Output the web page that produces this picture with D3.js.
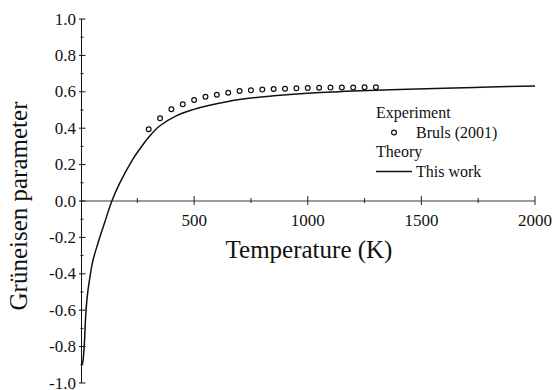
<!DOCTYPE html>
<html>
<head>
<meta charset="utf-8">
<script src="https://cdn.jsdelivr.net/npm/d3@7"></script>
<style>
  html, body { margin: 0; padding: 0; background: #fff; }
  svg { display: block; }
</style>
</head>
<body>
<svg id="chart" width="555" height="390"></svg>
<script>
// ---- data ----
const expT = [300,350,400,450,500,550,600,650,700,750,800,850,900,950,1000,1050,1100,1150,1200,1250,1300];
const expG = [0.394,0.454,0.504,0.531,0.555,0.573,0.584,0.595,0.604,0.608,0.612,0.615,0.617,0.619,0.621,0.622,0.623,0.624,0.624,0.625,0.625];

const theoryT = [6,10,14,18,22,27,33,40,54,76,106,138,172,228,274,300,348,421,495,568,700,850,1000,1200,1400,1600,1800,2000];
const theoryG = [-0.90,-0.885,-0.84,-0.76,-0.65,-0.56,-0.49,-0.43,-0.33,-0.235,-0.12,0.0,0.097,0.225,0.308,0.350,0.412,0.468,0.502,0.526,0.558,0.578,0.592,0.604,0.613,0.620,0.626,0.632];

const xMajorTicks = [500,1000,1500,2000];
const xMinorTicks = [250,750,1250,1750];
const yMajorTicks = [-1.0,-0.8,-0.6,-0.4,-0.2,0.0,0.2,0.4,0.6,0.8,1.0];
const yMinorTicks = [-0.9,-0.7,-0.5,-0.3,-0.1,0.1,0.3,0.5,0.7,0.9];
const yTickLabels = ["-1.0","-0.8","-0.6","-0.4","-0.2","0.0","0.2","0.4","0.6","0.8","1.0"];

const FONT = "Liberation Serif";
const svg = d3.select("#chart");
const x = d3.scaleLinear().domain([0, 2000]).range([80.5, 535]);
const y = d3.scaleLinear().domain([-1, 1]).range([383, 19]);

// ---- x axis (at y = 0) ----
const gx = svg.append("g");
gx.append("line")
  .attr("x1", x(0)).attr("x2", x(2000))
  .attr("y1", y(0)).attr("y2", y(0))
  .attr("stroke", "#7a7a7a").attr("stroke-width", 1.5);
gx.selectAll(".xmaj").data(xMajorTicks).enter().append("line")
  .attr("x1", d => x(d)).attr("x2", d => x(d))
  .attr("y1", y(0) - 5).attr("y2", y(0) + 4)
  .attr("stroke", "#222").attr("stroke-width", 1);
gx.selectAll(".xmin").data(xMinorTicks).enter().append("line")
  .attr("x1", d => x(d)).attr("x2", d => x(d))
  .attr("y1", y(0) - 3).attr("y2", y(0) + 2)
  .attr("stroke", "#222").attr("stroke-width", 1);
gx.selectAll(".xlab").data(xMajorTicks).enter().append("text")
  .attr("x", d => x(d)).attr("y", 226)
  .attr("text-anchor", "middle")
  .attr("font-family", FONT)
  .attr("font-size", 17).attr("fill", "#111")
  .text(d => d);

// ---- y axis ----
const gy = svg.append("g");
gy.append("line")
  .attr("x1", x(0) + 1).attr("x2", x(0) + 1)
  .attr("y1", y(-1)).attr("y2", y(1))
  .attr("stroke", "#111").attr("stroke-width", 1);
gy.selectAll(".ymaj").data(yMajorTicks).enter().append("line")
  .attr("x1", x(0) - 1.5).attr("x2", x(0) + 5)
  .attr("y1", d => y(d)).attr("y2", d => y(d))
  .attr("stroke", "#111").attr("stroke-width", 1);
gy.selectAll(".ymin").data(yMinorTicks).enter().append("line")
  .attr("x1", x(0)).attr("x2", x(0) + 3)
  .attr("y1", d => y(d)).attr("y2", d => y(d))
  .attr("stroke", "#111").attr("stroke-width", 1);
gy.selectAll(".ylab").data(yMajorTicks).enter().append("text")
  .attr("x", 76).attr("y", d => y(d) + 5.5)
  .attr("text-anchor", "end")
  .attr("font-family", FONT)
  .attr("font-size", 17).attr("fill", "#111")
  .text((d, i) => yTickLabels[i]);

// ---- axis titles ----
svg.append("text")
  .attr("x", 309).attr("y", 258)
  .attr("text-anchor", "middle")
  .attr("font-family", FONT)
  .attr("font-size", 25).attr("fill", "#111")
  .text("Temperature (K)");
svg.append("text")
  .attr("transform", "translate(27,206) rotate(-90)")
  .attr("text-anchor", "middle")
  .attr("font-family", FONT)
  .attr("font-size", 25).attr("fill", "#111")
  .text("Grüneisen parameter");

// ---- theory curve ----
const line = d3.line()
  .x((d, i) => x(theoryT[i]))
  .y((d, i) => y(theoryG[i]))
  .curve(d3.curveCatmullRom.alpha(0.5));
svg.append("path")
  .datum(theoryT)
  .attr("d", line)
  .attr("fill", "none")
  .attr("stroke", "#111").attr("stroke-width", 1.5);

// ---- experiment points ----
svg.selectAll(".pt").data(expT).enter().append("circle")
  .attr("cx", d => x(d))
  .attr("cy", (d, i) => y(expG[i]))
  .attr("r", 2.4)
  .attr("fill", "#fff").attr("stroke", "#111").attr("stroke-width", 1.2);

// ---- legend ----
const lg = svg.append("g");
const legText = (tx, ty, s) => lg.append("text").attr("x", tx).attr("y", ty)
  .attr("font-family", FONT).attr("font-size", 16).attr("fill", "#111").text(s);
legText(376, 118, "Experiment");
lg.append("circle").attr("cx", 394).attr("cy", 132.5).attr("r", 2.4)
  .attr("fill", "#fff").attr("stroke", "#111").attr("stroke-width", 1.2);
legText(416, 138, "Bruls (2001)");
legText(376, 157, "Theory");
lg.append("line").attr("x1", 376).attr("x2", 412).attr("y1", 171.5).attr("y2", 171.5)
  .attr("stroke", "#111").attr("stroke-width", 1.5);
legText(416, 177, "This work");
</script>
</body>
</html>
